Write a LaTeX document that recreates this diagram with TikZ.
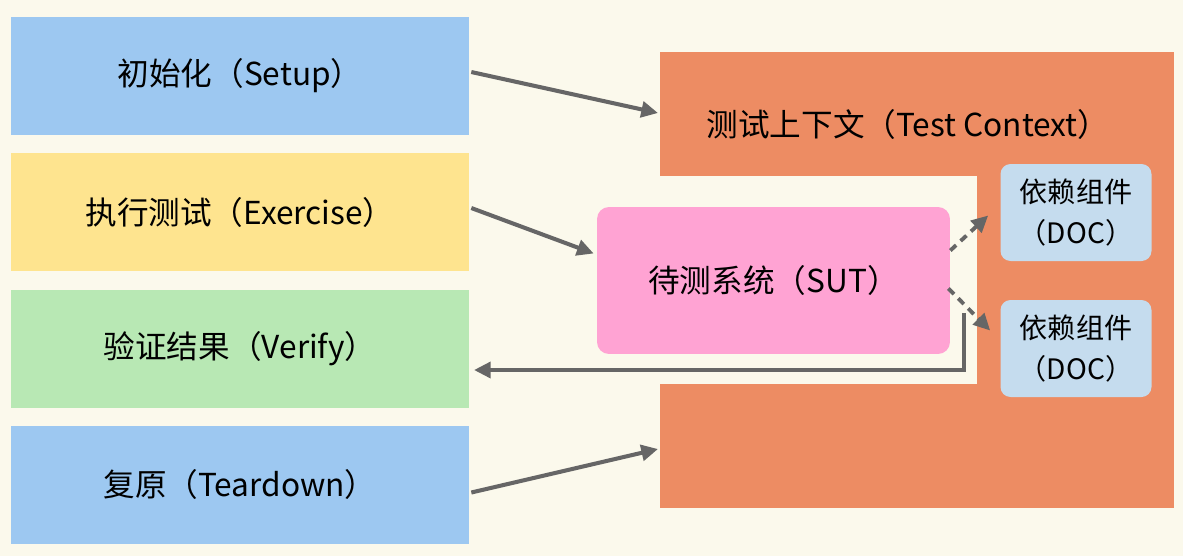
\documentclass[tikz,border=0pt]{standalone}
\usepackage{fontspec}
\setmainfont{Noto Sans CJK SC}
\usetikzlibrary{arrows.meta, calc}

\definecolor{bgcream}{HTML}{FBF9EC}
\definecolor{stageblue}{HTML}{9DC8F1}
\definecolor{stageyellow}{HTML}{FEE48F}
\definecolor{stagegreen}{HTML}{B8E8B4}
\definecolor{ctxorange}{HTML}{ED8C63}
\definecolor{sutpink}{HTML}{FFA3D3}
\definecolor{docblue}{HTML}{C5DCEE}
\definecolor{arrowgray}{HTML}{666666}

\begin{document}
\begin{tikzpicture}[x=0.02cm, y=-0.02cm,
  stage/.style={minimum width=9.16cm, minimum height=2.36cm, inner sep=0pt,
    font=\fontsize{18}{21}\selectfont},
  flow/.style={draw=arrowgray, line width=2.3pt,
    -{Triangle[length=9.5pt, width=9pt]}},
  dashflow/.style={flow, line width=2.2pt, dash pattern=on 4.5pt off 3.5pt}]

  % Background and bounding box
  \fill[bgcream] (0,0) rectangle (1183,556);
  \useasboundingbox (0,0) rectangle (1183,556);

  % The four phases
  \node[stage, fill=stageblue] (setup) at (240,76) {初始化（Setup）};
  \node[stage, fill=stageyellow] (exercise) at (240,212) {执行测试（Exercise）};
  \node[stage, fill=stagegreen] (verify) at (240,348.5) {验证结果（Verify）};
  \node[stage, fill=stageblue] (teardown) at (240,484.5) {复原（Teardown）};

  % Test context, cut open on the left
  \fill[ctxorange] (660,52) rectangle (1174,508);
  \fill[bgcream] (660,176) rectangle (977,384);
  \node[font=\fontsize{18}{21}\selectfont] (context) at (908,124) {测试上下文（Test Context）};

  % System under test and its dependencies
  \node[fill=sutpink, rounded corners=0.24cm, minimum width=7.06cm,
    minimum height=2.94cm, inner sep=0pt, font=\fontsize{18}{21}\selectfont]
    (sut) at (773.5,280.5) {待测系统（SUT）};
  \node[fill=docblue, rounded corners=0.2cm, minimum width=3.02cm,
    minimum height=1.94cm, inner sep=0pt, align=center,
    font=\fontsize{16}{23}\selectfont] (doc1) at (1076,212.5) {依赖组件\\（DOC）};
  \node[fill=docblue, rounded corners=0.2cm, minimum width=3.02cm,
    minimum height=1.94cm, inner sep=0pt, align=center,
    font=\fontsize{16}{23}\selectfont] (doc2) at (1076,348.5) {依赖组件\\（DOC）};

  % Arrow ends
  \coordinate (ctxin) at (658,113);
  \coordinate (ctxout) at (658,449);
  \coordinate (back) at (964,313);
  \coordinate (ret) at (474,370);

  % Connectors
  \draw[flow] ($(setup.east)+(2,-4)$) -- (ctxin);
  \draw[flow] ($(exercise.east)+(2,-4)$) -- ($(sut.west)+(-3,-27)$);
  \draw[flow] ($(teardown.east)+(2,8)$) -- (ctxout);
  \draw[dashflow] ($(sut.east)+(0,-30)$) -- ($(doc1.west)+(-12,3)$);
  \draw[dashflow] ($(sut.east)+(-2,8)$) -- ($(doc2.west)+(-10,-18)$);
  \draw[flow] (back) |- (ret);

\end{tikzpicture}
\end{document}
